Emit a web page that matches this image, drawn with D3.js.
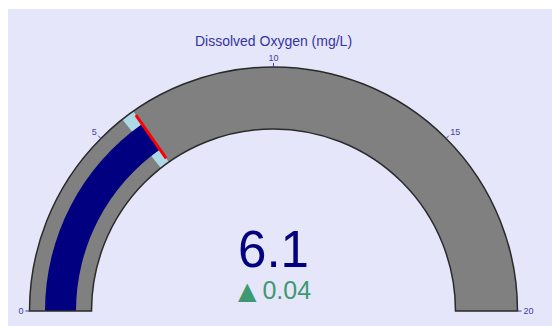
<!DOCTYPE html>
<html>
<head>
<meta charset="utf-8">
<script src="https://cdn.jsdelivr.net/npm/d3@7"></script>
<style>
  html, body { margin: 0; padding: 0; background: #ffffff; }
  svg { display: block; }
  text { font-family: Arial, "Liberation Sans", sans-serif; }
</style>
</head>
<body>
<svg id="chart" width="552" height="326"></svg>
<script>
// Gauge configuration
const titleText = ["Dissolved Oxygen (mg/L)"];
const gaugeRange = [0, 20];
const tickValues = [0, 5, 10, 15, 20];
const reading = [6.1];
const change = [0.04];
const stepRange = [5.75, 6.1];
const threshold = [6.1];

const svg = d3.select("#chart");

// panel background
svg.append("rect")
  .attr("x", 8).attr("y", 9)
  .attr("width", 552 - 8).attr("height", 326 - 9)
  .attr("fill", "#e6e6fa");

const cx = 273.5, cy = 311;
const rOuter = 244, rInner = 182;
const rMid = (rOuter + rInner) / 2;
const band = rOuter - rInner;

const angle = d3.scaleLinear().domain(gaugeRange).range([-Math.PI / 2, Math.PI / 2]);

const g = svg.append("g").attr("transform", `translate(${cx},${cy})`);
const arc = d3.arc();

// gauge background
g.append("path")
  .attr("d", arc({innerRadius: rInner, outerRadius: rOuter,
                  startAngle: angle(gaugeRange[0]), endAngle: angle(gaugeRange[1])}))
  .attr("fill", "#808080");

// step band
g.append("path")
  .attr("d", arc({innerRadius: rInner, outerRadius: rOuter,
                  startAngle: angle(stepRange[0]), endAngle: angle(stepRange[1])}))
  .attr("fill", "#add8e6");

// value bar
g.append("path")
  .attr("d", arc({innerRadius: rMid - band * 0.25, outerRadius: rMid + band * 0.25,
                  startAngle: angle(gaugeRange[0]), endAngle: angle(reading[0])}))
  .attr("fill", "#000080");

// gauge outline
g.append("path")
  .attr("d", arc({innerRadius: rInner, outerRadius: rOuter,
                  startAngle: angle(gaugeRange[0]), endAngle: angle(gaugeRange[1])}))
  .attr("fill", "none")
  .attr("stroke", "#2a2a2a")
  .attr("stroke-width", 1.5);

// threshold line
const tA = angle(threshold[0]);
const tHalf = band * 0.85 / 2;
g.append("line")
  .attr("x1", Math.sin(tA) * (rMid - tHalf)).attr("y1", -Math.cos(tA) * (rMid - tHalf))
  .attr("x2", Math.sin(tA) * (rMid + tHalf)).attr("y2", -Math.cos(tA) * (rMid + tHalf))
  .attr("stroke", "#ff0000")
  .attr("stroke-width", 3);

// ticks and labels
const tickLen = 4;
const tickColor = "#4040a8";
const ticks = g.selectAll("g.tick").data(tickValues).join("g").attr("class", "tick");
ticks.append("line")
  .attr("x1", d => Math.sin(angle(d)) * rOuter)
  .attr("y1", d => -Math.cos(angle(d)) * rOuter)
  .attr("x2", d => Math.sin(angle(d)) * (rOuter + tickLen))
  .attr("y2", d => -Math.cos(angle(d)) * (rOuter + tickLen))
  .attr("stroke", tickColor)
  .attr("stroke-width", 1);
const mid = (gaugeRange[0] + gaugeRange[1]) / 2;
ticks.append("text")
  .attr("x", d => Math.sin(angle(d)) * (rOuter + tickLen + 2))
  .attr("y", d => -Math.cos(angle(d)) * (rOuter + tickLen + 2) - Math.cos(angle(d)) * 3)
  .attr("dy", "0.35em")
  .attr("text-anchor", d => d < mid ? "end" : d > mid ? "start" : "middle")
  .attr("font-size", 9)
  .attr("fill", tickColor)
  .text(d => d);

// title
svg.append("text")
  .attr("x", cx).attr("y", 45.5)
  .attr("text-anchor", "middle")
  .attr("font-size", 14)
  .attr("fill", "#3434a0")
  .text(titleText[0]);

// current reading
svg.append("text")
  .attr("x", cx).attr("y", 267)
  .attr("text-anchor", "middle")
  .attr("font-size", 51)
  .attr("fill", "#000080")
  .text(d3.format(".1f")(reading[0]));

// change from reference
const deltaText = svg.append("text")
  .attr("x", cx + 1).attr("y", 299)
  .attr("text-anchor", "middle")
  .attr("font-size", 25)
  .attr("fill", "#3d9970");
deltaText.append("tspan")
  .attr("font-family", "'DejaVu Sans', sans-serif")
  .attr("font-size", 24)
  .text(change[0] >= 0 ? "▲" : "▼");
deltaText.append("tspan")
  .attr("dx", 6)
  .text(d3.format(".2f")(Math.abs(change[0])));
</script>
</body>
</html>
